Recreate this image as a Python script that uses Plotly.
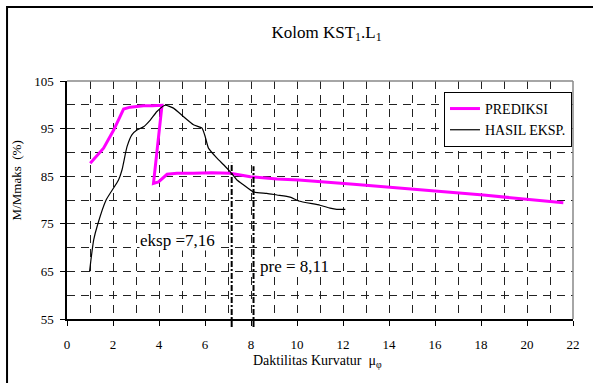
import plotly.graph_objects as go

# ---- data ----
pred_x = [1.01, 1.30, 1.59, 2.03, 2.46, 2.75, 3.33, 3.70, 4.13, 3.76, 3.98, 4.35, 4.78, 5.5, 6.3, 7.10, 7.97, 9.13, 10.07, 12.46, 15.21, 18.10, 21.58]
pred_y = [87.7, 89.3, 90.9, 94.7, 99.1, 99.5, 99.8, 99.8, 99.9, 83.5, 83.8, 85.4, 85.6, 85.6, 85.7, 85.6, 84.9, 84.4, 84.2, 83.3, 82.2, 81.05, 79.4]

eksp_x = [0.98, 1.04, 1.16, 1.33, 1.70, 2.24, 2.39, 2.61, 2.82, 3.04, 3.33, 3.62, 3.91, 4.27, 4.63, 5.07, 5.50, 5.87, 6.01, 6.15, 6.52, 6.81, 7.10, 7.39, 7.67, 8.11, 8.69, 9.13, 9.70, 10.07, 11.0, 11.44, 11.73, 12.10]
eksp_y = [64.9, 67.4, 71.6, 74.8, 80.0, 84.2, 86.3, 91.2, 93.7, 94.7, 95.4, 96.8, 98.6, 99.9, 99.3, 97.5, 95.8, 95.1, 93.3, 90.9, 88.8, 87.4, 85.9, 84.2, 83.2, 81.7, 81.4, 81.05, 80.6, 79.8, 78.9, 78.3, 78.05, 78.05]

ductility_values = [7.16, 8.11]
ductility_tops = [87.8, 87.1]
ductility_labels = ["eksp =7,16", "pre = 8,11"]

x_range = [0, 22]
y_range = [55, 105]

FONT = "Liberation Serif, Times New Roman, serif"

fig = go.Figure()
fig.add_trace(go.Scatter(x=pred_x, y=pred_y, mode="lines", name="PREDIKSI",
                         line=dict(color="#ff00ff", width=3)))
fig.add_trace(go.Scatter(x=eksp_x, y=eksp_y, mode="lines", name="HASIL EKSP.",
                         line=dict(color="#000000", width=1.2, shape="spline", smoothing=0.5)))

for xv, top in zip(ductility_values, ductility_tops):
    fig.add_shape(type="line", xref="x", yref="paper",
                  x0=xv, x1=xv, y0=-0.034, y1=(top - y_range[0]) / (y_range[1] - y_range[0]),
                  line=dict(color="black", width=2, dash="6px,2px,2px,2px"))

fig.add_annotation(x=3.11, y=71.45, xref="x", yref="y", text=ductility_labels[0],
                   showarrow=False, xanchor="left", yanchor="middle",
                   font=dict(family=FONT, size=17, color="black"), bgcolor="white", borderpad=0)
fig.add_annotation(x=8.33, y=66.0, xref="x", yref="y", text=ductility_labels[1],
                   showarrow=False, xanchor="left", yanchor="middle",
                   font=dict(family=FONT, size=17, color="black"), bgcolor="white", borderpad=0)

fig.add_shape(type="line", xref="paper", yref="paper", x0=0, x1=1, y0=1, y1=1,
              line=dict(color="#888888", width=1.5))
fig.add_shape(type="line", xref="paper", yref="paper", x0=1, x1=1, y0=0, y1=1,
              line=dict(color="#888888", width=1.5))

fig.add_shape(type="rect", xref="paper", yref="paper", x0=-0.1185, x1=1.1, y0=-0.35, y1=1.311,
              line=dict(color="black", width=2), fillcolor="rgba(0,0,0,0)")

fig.add_annotation(x=0.496, y=-0.179, xref="paper", yref="paper",
                   text="Daktilitas Kurvatur  μ<sub>φ</sub>", showarrow=False,
                   xanchor="center", yanchor="middle",
                   font=dict(family=FONT, size=14, color="black"))
fig.add_annotation(x=-0.10, y=0.584, xref="paper", yref="paper",
                   text="M/Mmaks  (%)", showarrow=False, textangle=-90,
                   xanchor="center", yanchor="middle",
                   font=dict(family=FONT, size=13, color="black"))

fig.update_layout(
    width=593, height=383,
    margin=dict(l=67, r=20, t=81, b=64),
    paper_bgcolor="white", plot_bgcolor="white",
    font=dict(family=FONT, size=13, color="black"),
    title=dict(text="Kolom KST<sub>1</sub>.L<sub>1</sub>", x=0.513, xref="paper", xanchor="center",
               y=1 - 31.7 / 383, yanchor="middle",
               font=dict(family=FONT, size=17, color="black")),
    showlegend=True,
    legend=dict(x=0.745, y=0.954, xanchor="left", yanchor="top",
                bgcolor="white", bordercolor="black", borderwidth=1,
                font=dict(family=FONT, size=14, color="black"),
                tracegroupgap=0),
    xaxis=dict(range=x_range, tick0=0, dtick=2, ticks="outside", ticklen=5, tickcolor="black",
               showline=True, linecolor="black", linewidth=1.5, zeroline=False,
               ticklabelstandoff=8, automargin=False,
               showgrid=True, gridcolor="#222222", gridwidth=1, griddash="8px,6px",
               minor=dict(dtick=1, showgrid=True, gridcolor="#222222", griddash="8px,6px", ticks="")),
    yaxis=dict(range=y_range, tick0=55, dtick=10, ticks="outside", ticklen=5, tickcolor="black",
               showline=True, linecolor="black", linewidth=1.5, zeroline=False,
               ticklabelstandoff=4, automargin=False,
               showgrid=True, gridcolor="#222222", gridwidth=1, griddash="8px,6px",
               minor=dict(dtick=5, showgrid=True, gridcolor="#222222", griddash="8px,6px", ticks="")),
)

fig.write_html("out.html", config={"displayModeBar": False},
               post_script="document.body.style.margin='0';document.body.style.padding='0';")
